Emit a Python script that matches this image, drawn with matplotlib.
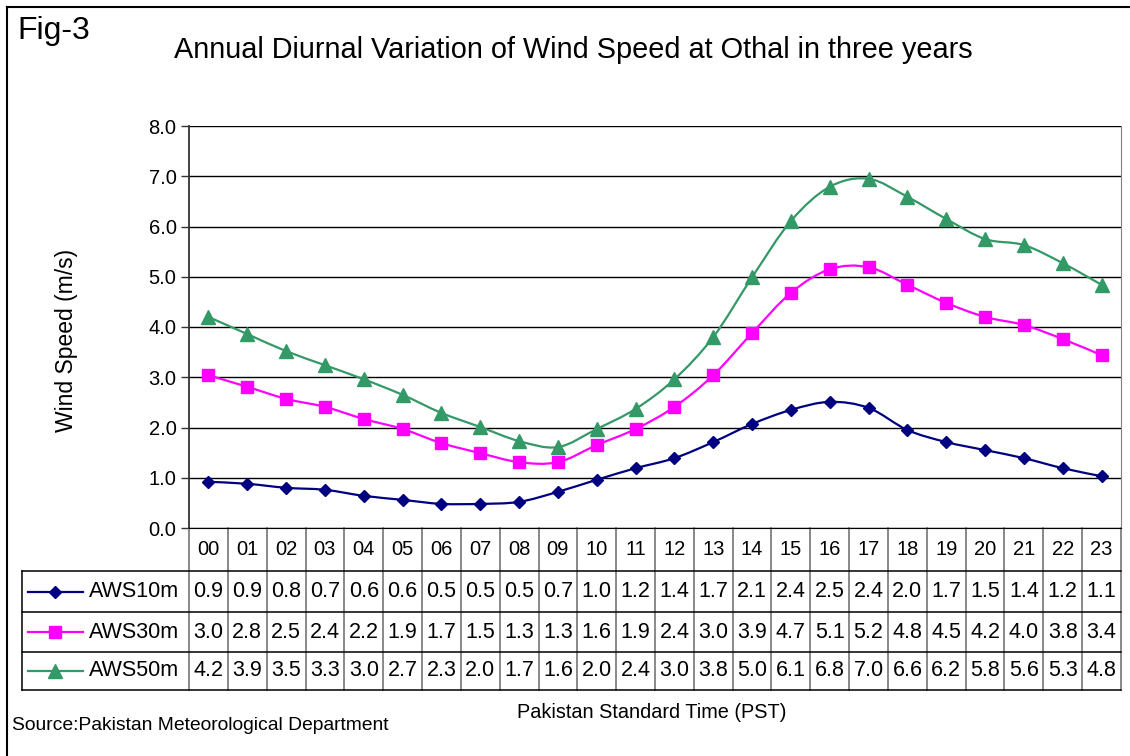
import numpy as np
import matplotlib
matplotlib.use("Agg")
import matplotlib.pyplot as plt
from matplotlib.path import Path
from matplotlib.patches import PathPatch
from matplotlib.lines import Line2D
from matplotlib.transforms import blended_transform_factory

# hours of the day (PST)
hours = ["00", "01", "02", "03", "04", "05", "06", "07", "08", "09", "10", "11",
         "12", "13", "14", "15", "16", "17", "18", "19", "20", "21", "22", "23"]

# plotted wind speed (m/s)
aws10 = [0.92, 0.88, 0.80, 0.76, 0.64, 0.56, 0.48, 0.48, 0.52, 0.72, 0.96, 1.19,
         1.39, 1.71, 2.07, 2.35, 2.51, 2.39, 1.95, 1.71, 1.55, 1.39, 1.19, 1.03]
aws30 = [3.04, 2.81, 2.57, 2.41, 2.17, 1.97, 1.69, 1.49, 1.31, 1.31, 1.65, 1.97,
         2.41, 3.04, 3.88, 4.68, 5.15, 5.19, 4.84, 4.48, 4.20, 4.04, 3.76, 3.44]
aws50 = [4.20, 3.86, 3.52, 3.24, 2.96, 2.65, 2.29, 2.01, 1.73, 1.61, 1.97, 2.37,
         2.96, 3.80, 4.99, 6.11, 6.79, 6.95, 6.59, 6.15, 5.75, 5.63, 5.27, 4.84]

# values printed in the data table
tab10 = ["0.9", "0.9", "0.8", "0.7", "0.6", "0.6", "0.5", "0.5", "0.5", "0.7", "1.0", "1.2",
         "1.4", "1.7", "2.1", "2.4", "2.5", "2.4", "2.0", "1.7", "1.5", "1.4", "1.2", "1.1"]
tab30 = ["3.0", "2.8", "2.5", "2.4", "2.2", "1.9", "1.7", "1.5", "1.3", "1.3", "1.6", "1.9",
         "2.4", "3.0", "3.9", "4.7", "5.1", "5.2", "4.8", "4.5", "4.2", "4.0", "3.8", "3.4"]
tab50 = ["4.2", "3.9", "3.5", "3.3", "3.0", "2.7", "2.3", "2.0", "1.7", "1.6", "2.0", "2.4",
         "3.0", "3.8", "5.0", "6.1", "6.8", "7.0", "6.6", "6.2", "5.8", "5.6", "5.3", "4.8"]

series = [
    ("AWS10m", aws10, tab10, "#000080", "D", 6.5),
    ("AWS30m", aws30, tab30, "#FF00FF", "s", 8),
    ("AWS50m", aws50, tab50, "#339966", "^", 9.5),
]

plt.rcParams['font.family'] = ['Liberation Sans', 'DejaVu Sans']

W, H = 1130, 756
L, R, T, B = 189, 1121, 126, 528


def fx(px):
    return px / W


def fy(py):
    return 1 - py / H


# excel style smoothed line through the points
def smooth_path(xs, ys):
    pts = np.column_stack([xs, ys]).astype(float)
    n = len(pts)
    verts = [pts[0]]
    codes = [Path.MOVETO]
    for i in range(n - 1):
        p0 = pts[max(i - 1, 0)]
        p1 = pts[i]
        p2 = pts[i + 1]
        p3 = pts[min(i + 2, n - 1)]
        verts += [p1 + (p2 - p0) / 6, p2 - (p3 - p1) / 6, p2]
        codes += [Path.CURVE4] * 3
    return Path(verts, codes)


fig = plt.figure(figsize=(W / 100, H / 100), dpi=100)
ax = fig.add_axes([fx(L), fy(B), fx(R) - fx(L), fy(T) - fy(B)])

x = np.arange(len(hours))
for name, vals, _, col, mk, ms in series:
    ax.add_patch(PathPatch(smooth_path(x, vals), facecolor="none", edgecolor=col, lw=1.6, zorder=3))
    ax.plot(x, vals, linestyle="none", marker=mk, ms=ms, color=col, zorder=4)

ax.set_xlim(-0.5, len(hours) - 0.5)
ax.set_ylim(0, 8)
ax.set_yticks(np.arange(0, 9, 1))
ax.set_yticklabels([f"{v:.1f}" for v in range(9)], fontsize=14.5)
ax.set_xticks([])
ax.yaxis.grid(True, color="black", lw=1)
ax.set_axisbelow(True)
ax.tick_params(axis="y", length=6, width=1, color="#333333", pad=3)
ax.spines["top"].set_visible(False)
ax.spines["right"].set_color("#808080")
ax.spines["left"].set_color("#333333")
ax.spines["left"].set_linewidth(1.3)
ax.spines["bottom"].set_color("black")

# data table under the plot
tr = blended_transform_factory(ax.transData, ax.transAxes)


def ay(py):
    return (B - py) / (B - T)


def ax_frac(px):
    return (px - L) / (R - L)


rows_px = [B, 571, 612, 652, 690]
n = len(hours)

for i in range(n + 1):
    ax.add_line(Line2D([i - 0.5, i - 0.5], [ay(rows_px[0]), ay(rows_px[-1])], transform=tr,
                       color="#808080", lw=1.3, clip_on=False))
for py in rows_px[1:]:
    ax.add_line(Line2D([ax_frac(22), 1], [ay(py), ay(py)], transform=ax.transAxes,
                       color="black", lw=1.1, clip_on=False))
ax.add_line(Line2D([ax_frac(22), ax_frac(22)], [ay(rows_px[1]), ay(rows_px[-1])], transform=ax.transAxes,
                   color="black", lw=1.1, clip_on=False))

hy = ay((rows_px[0] + rows_px[1]) / 2)
for i, h in enumerate(hours):
    ax.text(i, hy, h, transform=tr, ha="center", va="center", fontsize=14.5)

for r, (name, vals, labels, col, mk, ms) in enumerate(series):
    cy = ay((rows_px[r + 1] + rows_px[r + 2]) / 2)
    for i, s in enumerate(labels):
        ax.text(i, cy, s, transform=tr, ha="center", va="center", fontsize=15.5)
    ax.add_line(Line2D([ax_frac(28), ax_frac(83)], [cy, cy], transform=ax.transAxes,
                       color=col, lw=1.6, clip_on=False))
    ax.add_line(Line2D([ax_frac(55)], [cy], transform=ax.transAxes, linestyle="none",
                       marker=mk, ms=ms, color=col, clip_on=False))
    ax.text(ax_frac(89), cy, name, transform=ax.transAxes, ha="left", va="center", fontsize=15.5)

# titles and notes
fig.text(fx(17), fy(31), "Fig-3", fontsize=23, ha="left", va="center")
fig.text(fx(573), fy(50), "Annual Diurnal Variation of Wind Speed at Othal in three years",
         fontsize=20.8, ha="center", va="center")
fig.text(fx(67), fy(340), "Wind Speed (m/s)", fontsize=16.5, rotation=90, ha="center", va="center")
fig.text(fx(652), fy(712), "Pakistan Standard Time (PST)", fontsize=14.3, ha="center", va="center")
fig.text(fx(12), fy(725), "Source:Pakistan Meteorological Department", fontsize=13.9, ha="left", va="center")

# outer frame (top and left edges visible)
fig.add_artist(Line2D([fx(7), 1], [fy(7), fy(7)], color="black", lw=1.5))
fig.add_artist(Line2D([fx(7), fx(7)], [fy(7), 0], color="black", lw=1.5))

fig.savefig("out.png", dpi=100)
